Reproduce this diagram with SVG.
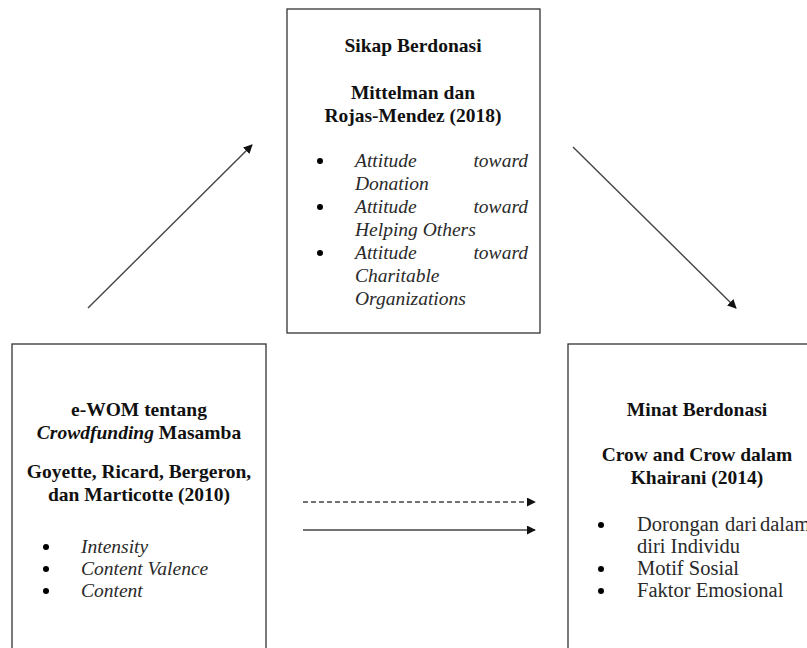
<svg xmlns="http://www.w3.org/2000/svg" width="807" height="648" viewBox="0 0 807 648">
<style>
.box{fill:#fff;stroke:#333;stroke-width:1.3}
text{font-family:"Liberation Serif","Times New Roman",serif;font-size:19.5px;fill:#1a1a1a}
.b{font-weight:bold;text-anchor:middle;fill:#111}
.i{font-style:italic;fill:#2a2a2a}
.r{fill:#2a2a2a;font-size:20.5px}
.ln{stroke:#444;stroke-width:1.4;fill:none}
</style>
<defs>
<marker id="ah" viewBox="0 0 10 10" refX="9" refY="5" markerWidth="9" markerHeight="9" markerUnits="userSpaceOnUse" orient="auto">
<path d="M0,0 L10,5 L0,10 z" fill="#111"/>
</marker>
</defs>
<rect width="807" height="648" fill="#fff"/>
<g id="sikap">
<rect class="box" x="287" y="9" width="253" height="324"/>
<text class="b" x="413" y="52">Sikap Berdonasi</text>
<text class="b" x="413" y="99">Mittelman dan</text>
<text class="b" x="413" y="122">Rojas-Mendez (2018)</text>
<circle cx="320" cy="161" r="3"/>
<text class="i" x="355" y="167">Attitude</text>
<text class="i" x="528" y="167" text-anchor="end">toward</text>
<text class="i" x="355" y="190">Donation</text>
<circle cx="320" cy="207" r="3"/>
<text class="i" x="355" y="213">Attitude</text>
<text class="i" x="528" y="213" text-anchor="end">toward</text>
<text class="i" x="355" y="236">Helping Others</text>
<circle cx="320" cy="253" r="3"/>
<text class="i" x="355" y="259">Attitude</text>
<text class="i" x="528" y="259" text-anchor="end">toward</text>
<text class="i" x="355" y="282">Charitable</text>
<text class="i" x="355" y="305">Organizations</text>
</g>
<g id="ewom">
<rect class="box" x="12" y="344" width="254" height="320"/>
<text class="b" x="139" y="416">e-WOM tentang</text>
<text class="b" x="139" y="439"><tspan font-style="italic">Crowdfunding</tspan> Masamba</text>
<text class="b" x="139" y="478">Goyette, Ricard, Bergeron,</text>
<text class="b" x="139" y="501">dan Marticotte (2010)</text>
<circle cx="46" cy="547" r="3"/>
<text class="i" x="81" y="553">Intensity</text>
<circle cx="46" cy="569" r="3"/>
<text class="i" x="81" y="575">Content Valence</text>
<circle cx="46" cy="591" r="3"/>
<text class="i" x="81" y="597">Content</text>
</g>
<g id="minat">
<rect class="box" x="568" y="344" width="260" height="320"/>
<text class="b" x="697" y="416">Minat Berdonasi</text>
<text class="b" x="697" y="461">Crow and Crow dalam</text>
<text class="b" x="697" y="484">Khairani (2014)</text>
<circle cx="601" cy="525" r="3"/>
<text class="r" x="637" y="531">Dorongan</text>
<text class="r" x="725" y="531">dari</text>
<text class="r" x="760" y="531">dalam</text>
<text class="r" x="637" y="553">diri Individu</text>
<circle cx="601" cy="569" r="3"/>
<text class="r" x="637" y="575">Motif Sosial</text>
<circle cx="601" cy="591" r="3"/>
<text class="r" x="637" y="597">Faktor Emosional</text>
</g>
<g id="connectors">
<line class="ln" x1="88" y1="308" x2="252" y2="145" marker-end="url(#ah)"/>
<line class="ln" x1="573" y1="147" x2="736" y2="308" marker-end="url(#ah)"/>
<line class="ln" x1="303" y1="502" x2="535" y2="502" stroke-dasharray="5,3" marker-end="url(#ah)"/>
<line class="ln" x1="303" y1="530" x2="535" y2="530" marker-end="url(#ah)"/>
</g>
</svg>
